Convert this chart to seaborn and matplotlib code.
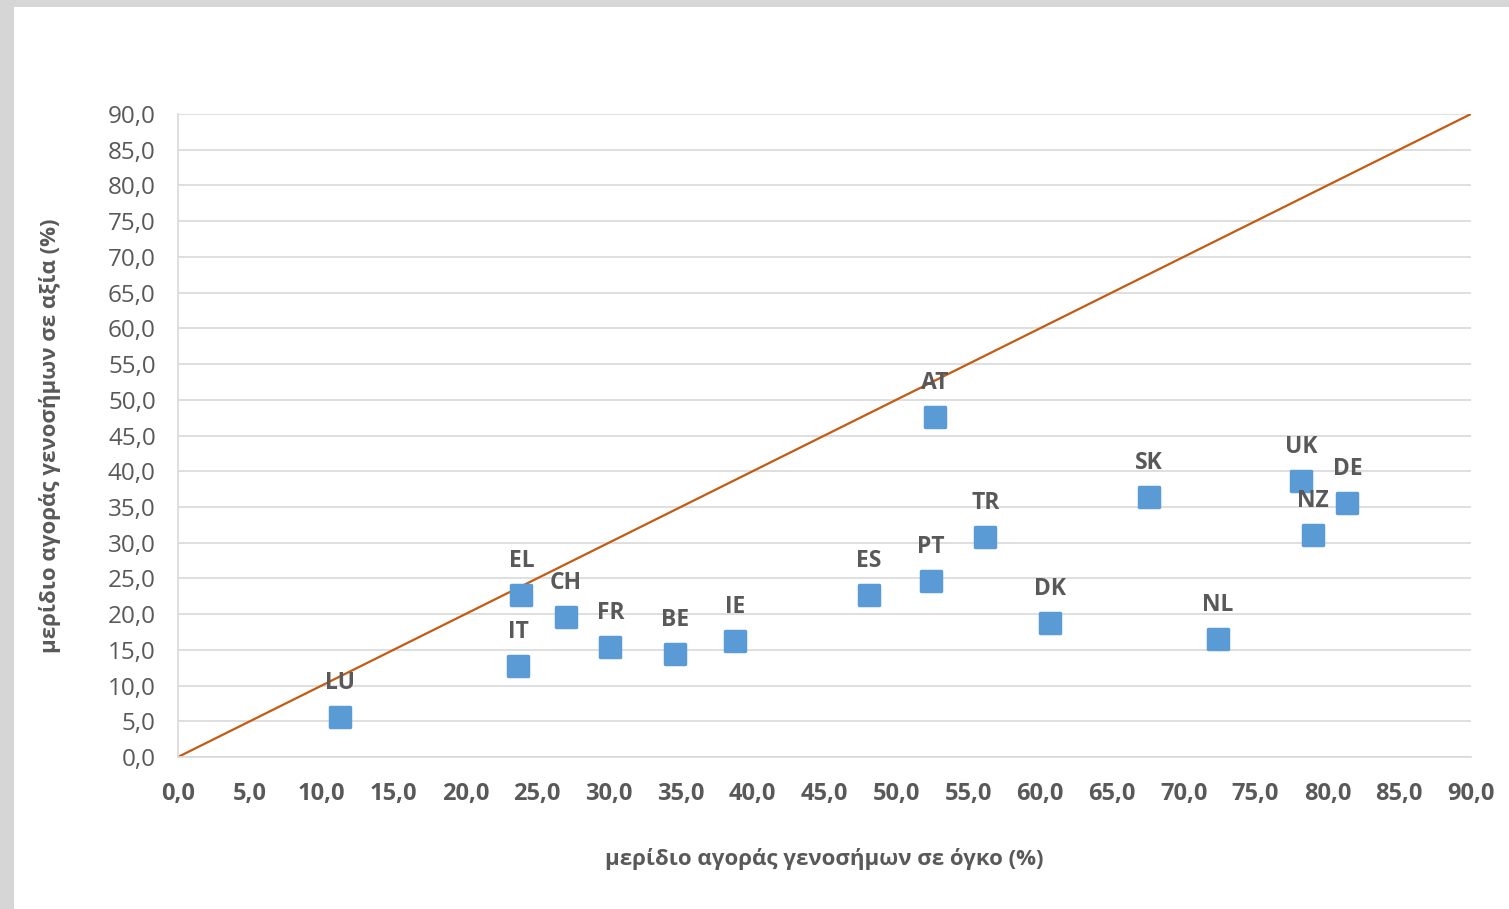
import matplotlib
matplotlib.use("Agg")
import matplotlib.pyplot as plt
import matplotlib.patches as mpatches
import numpy as np
import pandas as pd
import seaborn as sns

# Generic market share by country: volume (x) vs value (y), in %
countries = ["LU", "IT", "EL", "CH", "FR", "BE", "IE", "ES", "PT", "AT",
             "TR", "DK", "SK", "NL", "UK", "NZ", "DE"]
volume_share = [11.3, 23.7, 23.9, 27.0, 30.1, 34.6, 38.8, 48.1, 52.4, 52.7,
                56.2, 60.7, 67.6, 72.4, 78.2, 79.0, 81.4]
value_share = [5.6, 12.7, 22.7, 19.6, 15.4, 14.4, 16.2, 22.7, 24.6, 47.6,
               30.8, 18.8, 36.4, 16.5, 38.6, 31.1, 35.6]
diag = [0.0, 90.0]
ticks = np.arange(0, 90.1, 5)

xlabel = "μερίδιο αγοράς γενοσήμων σε όγκο (%)"
ylabel = "μερίδιο αγοράς γενοσήμων σε αξία (%)"

df = pd.DataFrame({"country": countries, "volume": volume_share, "value": value_share})

sns.set_theme(style="white")
plt.rcParams["font.family"] = ["Open Sans", "DejaVu Sans"]

TEXT = "#595959"
GRID = "#d9d9d9"
BLUE = "#5b9bd5"
ORANGE = "#c55a11"

fig = plt.figure(figsize=(15.09, 9.09), dpi=100)
fig.patch.set_facecolor("#d6d6d6")
fig.add_artist(mpatches.Rectangle((14 / 1509, 0), 1 - 14 / 1509, 1 - 7 / 909,
                                  transform=fig.transFigure, facecolor="white",
                                  edgecolor="none", zorder=0))

ax = fig.add_axes([178 / 1509, 1 - 757 / 909, (1471 - 178) / 1509, (757 - 114) / 909])
ax.set_facecolor("white")

ax.plot(diag, diag, color=ORANGE, lw=1.6, zorder=2)

sns.scatterplot(data=df, x="volume", y="value", ax=ax, marker="s", s=200,
                color=BLUE, edgecolor=BLUE, linewidth=2.5, zorder=3, legend=False)
for coll in ax.collections:
    coll.set_joinstyle("round")

for c, x, y in zip(countries, volume_share, value_share):
    ax.annotate(c, (x, y), xytext=(0, 24.5), textcoords="offset points",
                ha="center", va="center", fontsize=16.5, fontweight="bold",
                color=TEXT, zorder=4)

ax.set_xlim(0, 90)
ax.set_ylim(0, 90)
ax.set_xticks(ticks)
ax.set_yticks(ticks)
fmt = lambda v: f"{v:.1f}".replace(".", ",")
ax.set_xticklabels([fmt(t) for t in ticks], fontsize=17, fontweight="bold", color=TEXT)
ax.set_yticklabels([fmt(t) for t in ticks], fontsize=17.5, color=TEXT)
ax.tick_params(axis="both", length=0)
ax.tick_params(axis="x", pad=18)
ax.tick_params(axis="y", pad=16)

ax.yaxis.grid(True, color=GRID, lw=1.2)
ax.xaxis.grid(False)
ax.set_axisbelow(True)
for s in ["top", "right"]:
    ax.spines[s].set_visible(False)
for s in ["left", "bottom"]:
    ax.spines[s].set_color(GRID)
    ax.spines[s].set_linewidth(1.2)

ax.set_xlabel(xlabel, fontsize=16, fontweight="bold", color=TEXT, labelpad=30)
ax.set_ylabel(ylabel, fontsize=16, fontweight="bold", color=TEXT, labelpad=34)

fig.savefig("out.png", dpi=100)
